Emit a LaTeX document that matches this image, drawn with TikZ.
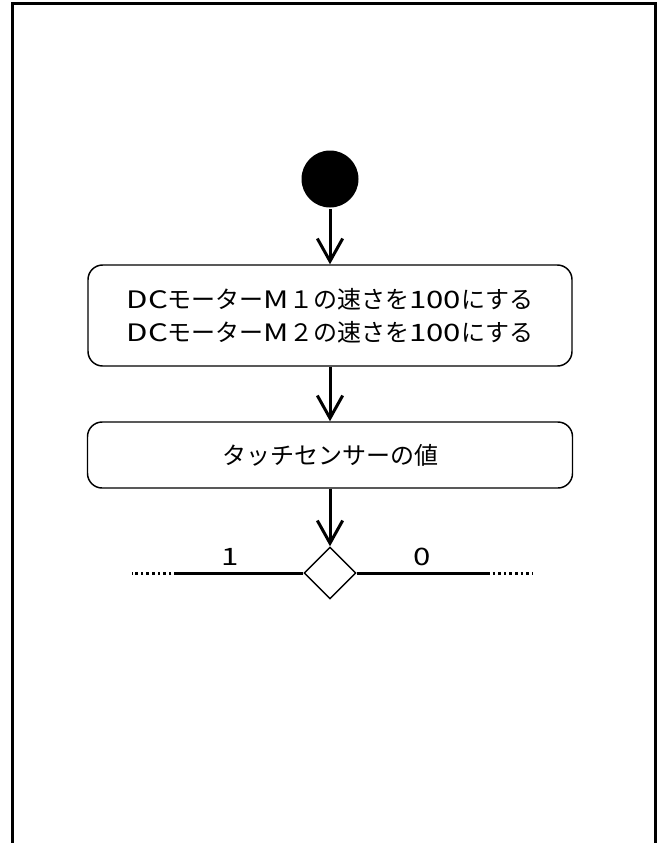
\documentclass[tikz,border=0pt]{standalone}
\usepackage{fontspec}
\setmainfont{Noto Sans CJK JP}
\newfontfamily\widelatin[FakeStretch=1.3]{Noto Sans CJK JP}
\newcommand{\wl}[1]{{\widelatin #1}}
\usetikzlibrary{arrows.meta,shapes.geometric}
\begin{document}
\begin{tikzpicture}[x=0.75pt,y=-0.75pt,
  line width=2.25pt,
  arr/.style={-{Straight Barb[length=17pt,width=19pt,line width=2.25pt]}},
  actbox/.style={draw,rounded corners=11pt,line width=1.1pt,align=center,
    font=\fontsize{18pt}{24.75pt}\selectfont,inner sep=0pt},
  lbl/.style={font=\fontsize{18pt}{22pt}\selectfont,inner sep=0pt}]
\useasboundingbox (0,0) rectangle (664,843);
\draw[line width=2.25pt] (12,850) -- (12,3) -- (655,3) -- (655,850);
\node[circle,fill,minimum size=42.75pt,inner sep=0pt] (start) at (330,179) {};
\node[actbox,minimum width=363pt,minimum height=75.75pt] (b1) at (330,315.5)
  {\wl{DC}モーター\wl{M}１の速さを\wl{100}にする\\\wl{DC}モーター\wl{M}２の速さを\wl{100}にする};
\node[actbox,minimum width=363.75pt,minimum height=49.5pt] (b2) at (330,455)
  {タッチセンサーの値};
\node[diamond,draw,line width=1.1pt,minimum width=39pt,minimum height=39pt,inner sep=0pt,aspect=1] (d) at (330,573) {};
\draw[arr] (start) -- (b1);
\draw[arr] (b1) -- (b2);
\draw[arr] (b2) -- (d);
\coordinate (l1) at (177,573);
\coordinate (l2) at (132,573);
\coordinate (r1) at (487,573);
\coordinate (r2) at (532,573);
\draw (d.west) -- (l1);
\draw[dash pattern=on 2pt off 2.2pt] (l1) -- (l2);
\draw (d.east) -- (r1);
\draw[dash pattern=on 2pt off 2.2pt] (r1) -- (r2);
\node[lbl] (one) at (230,557) {\wl{1}};
\node[lbl] (zero) at (422,557) {\wl{0}};
\end{tikzpicture}
\end{document}
